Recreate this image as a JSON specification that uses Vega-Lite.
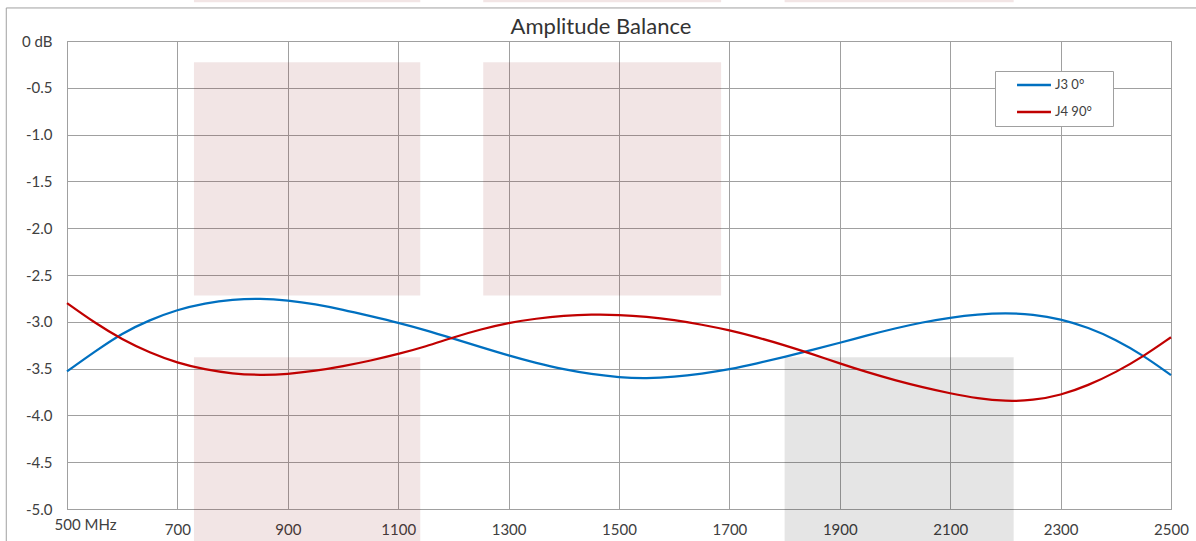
{
  "$schema": "https://vega.github.io/schema/vega-lite/v6.json",
  "autosize": "none",
  "width": 1104,
  "height": 468,
  "padding": {"left": 67, "top": 41, "right": 25, "bottom": 32},
  "background": "white",
  "config": {
    "font": "Lato",
    "view": {"stroke": "#a0a0a0", "strokeWidth": 1},
    "axis": {"gridColor": "#a0a0a0", "gridWidth": 1, "domainColor": "#a0a0a0", "ticks": false, "labelColor": "#404040", "labelFontSize": 15, "labelFont": "Lato", "title": null}
  },
  "title": {"text": "Amplitude Balance", "fontSize": 22, "fontWeight": "normal", "color": "#333333", "font": "Lato", "dx": -18, "offset": -56, "baseline": "alphabetic", "frame": "group"},
  "datasets": {
    "frame": [{"x": 390, "x2": 3600, "y": 0.353, "y2": -8}],
    "pink": [
      {"x": 730, "x2": 1140, "y": -0.228, "y2": -2.72},
      {"x": 1254, "x2": 1685, "y": -0.228, "y2": -2.72},
      {"x": 730, "x2": 1140, "y": -3.38, "y2": -5.5},
      {"x": 730, "x2": 1140, "y": 0.44, "y2": 0.415},
      {"x": 1254, "x2": 1685, "y": 0.44, "y2": 0.415},
      {"x": 1800, "x2": 2215, "y": 0.44, "y2": 0.415}
    ],
    "gray": [
      {"x": 1800, "x2": 2215, "y": -3.38, "y2": -5.5}
    ],
    "curves": [
      {"f": 500, "s": "J3 0°", "v": -3.53}, {"f": 550, "s": "J3 0°", "v": -3.32}, {"f": 600, "s": "J3 0°", "v": -3.12},
      {"f": 650, "s": "J3 0°", "v": -2.98}, {"f": 700, "s": "J3 0°", "v": -2.87}, {"f": 750, "s": "J3 0°", "v": -2.8},
      {"f": 800, "s": "J3 0°", "v": -2.76}, {"f": 850, "s": "J3 0°", "v": -2.75}, {"f": 900, "s": "J3 0°", "v": -2.77},
      {"f": 950, "s": "J3 0°", "v": -2.81}, {"f": 1000, "s": "J3 0°", "v": -2.87}, {"f": 1050, "s": "J3 0°", "v": -2.94},
      {"f": 1100, "s": "J3 0°", "v": -3.01}, {"f": 1150, "s": "J3 0°", "v": -3.09}, {"f": 1200, "s": "J3 0°", "v": -3.18},
      {"f": 1250, "s": "J3 0°", "v": -3.27}, {"f": 1300, "s": "J3 0°", "v": -3.36}, {"f": 1350, "s": "J3 0°", "v": -3.44},
      {"f": 1400, "s": "J3 0°", "v": -3.51}, {"f": 1450, "s": "J3 0°", "v": -3.56}, {"f": 1500, "s": "J3 0°", "v": -3.595},
      {"f": 1550, "s": "J3 0°", "v": -3.605}, {"f": 1600, "s": "J3 0°", "v": -3.59}, {"f": 1650, "s": "J3 0°", "v": -3.555},
      {"f": 1700, "s": "J3 0°", "v": -3.51}, {"f": 1750, "s": "J3 0°", "v": -3.445}, {"f": 1800, "s": "J3 0°", "v": -3.375},
      {"f": 1850, "s": "J3 0°", "v": -3.3}, {"f": 1900, "s": "J3 0°", "v": -3.225}, {"f": 1950, "s": "J3 0°", "v": -3.145},
      {"f": 2000, "s": "J3 0°", "v": -3.07}, {"f": 2050, "s": "J3 0°", "v": -3.005}, {"f": 2100, "s": "J3 0°", "v": -2.955},
      {"f": 2150, "s": "J3 0°", "v": -2.92}, {"f": 2200, "s": "J3 0°", "v": -2.905}, {"f": 2250, "s": "J3 0°", "v": -2.92},
      {"f": 2300, "s": "J3 0°", "v": -2.97}, {"f": 2350, "s": "J3 0°", "v": -3.06}, {"f": 2400, "s": "J3 0°", "v": -3.19},
      {"f": 2450, "s": "J3 0°", "v": -3.36}, {"f": 2500, "s": "J3 0°", "v": -3.57},
      {"f": 500, "s": "J4 90°", "v": -2.8}, {"f": 550, "s": "J4 90°", "v": -3.01}, {"f": 600, "s": "J4 90°", "v": -3.19},
      {"f": 650, "s": "J4 90°", "v": -3.33}, {"f": 700, "s": "J4 90°", "v": -3.44}, {"f": 750, "s": "J4 90°", "v": -3.51},
      {"f": 800, "s": "J4 90°", "v": -3.555}, {"f": 850, "s": "J4 90°", "v": -3.57}, {"f": 900, "s": "J4 90°", "v": -3.56},
      {"f": 950, "s": "J4 90°", "v": -3.525}, {"f": 1000, "s": "J4 90°", "v": -3.475}, {"f": 1050, "s": "J4 90°", "v": -3.415},
      {"f": 1100, "s": "J4 90°", "v": -3.345}, {"f": 1150, "s": "J4 90°", "v": -3.265}, {"f": 1200, "s": "J4 90°", "v": -3.165},
      {"f": 1250, "s": "J4 90°", "v": -3.08}, {"f": 1300, "s": "J4 90°", "v": -3.01}, {"f": 1350, "s": "J4 90°", "v": -2.965},
      {"f": 1400, "s": "J4 90°", "v": -2.935}, {"f": 1450, "s": "J4 90°", "v": -2.922}, {"f": 1500, "s": "J4 90°", "v": -2.925},
      {"f": 1550, "s": "J4 90°", "v": -2.945}, {"f": 1600, "s": "J4 90°", "v": -2.98}, {"f": 1650, "s": "J4 90°", "v": -3.03},
      {"f": 1700, "s": "J4 90°", "v": -3.09}, {"f": 1750, "s": "J4 90°", "v": -3.165}, {"f": 1800, "s": "J4 90°", "v": -3.25},
      {"f": 1850, "s": "J4 90°", "v": -3.345}, {"f": 1900, "s": "J4 90°", "v": -3.445}, {"f": 1950, "s": "J4 90°", "v": -3.54},
      {"f": 2000, "s": "J4 90°", "v": -3.625}, {"f": 2050, "s": "J4 90°", "v": -3.7}, {"f": 2100, "s": "J4 90°", "v": -3.765},
      {"f": 2150, "s": "J4 90°", "v": -3.82}, {"f": 2200, "s": "J4 90°", "v": -3.85}, {"f": 2250, "s": "J4 90°", "v": -3.84},
      {"f": 2300, "s": "J4 90°", "v": -3.785}, {"f": 2350, "s": "J4 90°", "v": -3.68}, {"f": 2400, "s": "J4 90°", "v": -3.54},
      {"f": 2450, "s": "J4 90°", "v": -3.37}, {"f": 2500, "s": "J4 90°", "v": -3.165}
    ]
  },
  "layer": [
    {
      "data": {"name": "frame"},
      "mark": {"type": "rect", "fill": null, "stroke": "#a0a0a0", "strokeWidth": 1, "clip": false},
      "encoding": {
        "x": {"field": "x", "type": "quantitative", "scale": {"domain": [500, 2500], "nice": false, "zero": false},
          "axis": {"values": [500, 700, 900, 1100, 1300, 1500, 1700, 1900, 2100, 2300, 2500], "grid": true,
            "labelExpr": "datum.value == 500 ? '500 MHz' : format(datum.value, 'd')",
            "labelPadding": {"condition": {"test": "datum.value == 500", "value": 8}, "value": 13},
            "labelOffset": {"condition": {"test": "datum.value == 500", "value": 18}, "value": 0},
            "labelFlush": false, "labelOverlap": false}},
        "x2": {"field": "x2"},
        "y": {"field": "y", "type": "quantitative", "scale": {"domain": [-5, 0], "nice": false, "zero": false},
          "axis": {"values": [0, -0.5, -1, -1.5, -2, -2.5, -3, -3.5, -4, -4.5, -5], "grid": true,
            "labelExpr": "datum.value == 0 ? '0 dB' : '-' + format(abs(datum.value), '.1f')",
            "labelPadding": 15, "labelFlush": false, "labelOverlap": false}},
        "y2": {"field": "y2"}
      }
    },
    {
      "data": {"name": "pink"},
      "mark": {"type": "rect", "color": "#800000", "opacity": 0.1, "clip": false},
      "encoding": {
        "x": {"field": "x", "type": "quantitative"},
        "x2": {"field": "x2"},
        "y": {"field": "y", "type": "quantitative"},
        "y2": {"field": "y2"}
      }
    },
    {
      "data": {"name": "gray"},
      "mark": {"type": "rect", "color": "#000000", "opacity": 0.1, "clip": false},
      "encoding": {
        "x": {"field": "x", "type": "quantitative"},
        "x2": {"field": "x2"},
        "y": {"field": "y", "type": "quantitative"},
        "y2": {"field": "y2"}
      }
    },
    {
      "data": {"name": "curves"},
      "mark": {"type": "line", "interpolate": "basis", "strokeWidth": 2.25},
      "encoding": {
        "x": {"field": "f", "type": "quantitative"},
        "y": {"field": "v", "type": "quantitative"},
        "color": {"field": "s", "type": "nominal",
          "scale": {"domain": ["J3 0°", "J4 90°"], "range": ["#0070c0", "#c00000"]},
          "legend": {"title": " ", "titleOrient": "right", "titleFontSize": 2, "titlePadding": 14,
            "orient": "none", "legendX": 928, "legendY": 30,
            "strokeColor": "#a0a0a0", "fillColor": "white", "padding": 7,
            "symbolType": "M-3,0H3", "symbolSize": 128, "symbolStrokeWidth": 2.5, "symbolOffset": 25,
            "labelFontSize": 13, "labelColor": "#404040", "labelOffset": 14, "rowPadding": 13}}
      }
    }
  ]
}
